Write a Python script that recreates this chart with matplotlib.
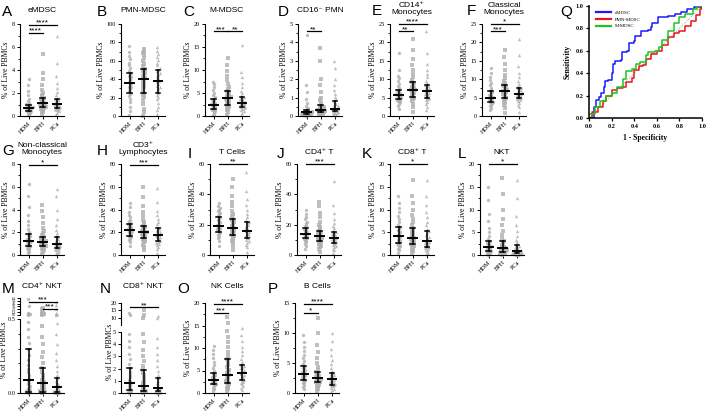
import numpy as np
import matplotlib
matplotlib.use('Agg')
import matplotlib.pyplot as plt
from matplotlib.ticker import AutoMinorLocator, MultipleLocator

groups = ['HDM', 'BPH', 'PCa']

# dot clouds per group (HDM, BPH, PCa)
emdsc = [[0.1,0.2,0.25,0.3,0.35,0.4,0.42,0.45,0.5,0.55,0.58,0.6,0.65,0.68,0.7,0.72,0.75,0.8,0.85,0.9,0.95,1.0,1.05,1.15,1.3,1.5,1.8,2.2,2.7,3.2],
         [0.2,0.35,0.45,0.55,0.6,0.65,0.7,0.75,0.8,0.85,0.9,0.95,1.0,1.05,1.1,1.15,1.2,1.3,1.4,1.45,1.5,1.55,1.65,1.8,2.0,2.3,2.7,3.2,3.7,5.4],
         [0.15,0.3,0.4,0.5,0.55,0.6,0.65,0.7,0.75,0.8,0.85,0.9,0.95,1.0,1.05,1.1,1.15,1.2,1.3,1.4,1.45,1.5,1.6,1.8,2.1,2.4,2.9,3.5,4.6,7.0]]
pmn = [[1,5,10,15,19,22,24,25,27,29,31,32,34,35,36,37,39,40,42,44,45,47,49,52,55,58,62,65,70,76],
       [0,4,8,13,17,21,23,25,28,31,33,35,37,39,40,41,43,45,47,49,50,51,54,57,60,63,66,69,71,73],
       [2,6,10,14,18,21,23,25,27,29,31,33,35,37,38,39,41,43,45,47,49,50,52,55,58,61,64,67,71,75]]
mmdsc = [[0.2,0.5,0.8,1.0,1.2,1.3,1.4,1.5,1.7,1.9,2.0,2.2,2.3,2.4,2.5,2.6,2.8,2.9,3.1,3.3,3.4,3.6,3.8,4.1,4.5,5.0,5.6,6.2,6.9,7.5],
         [0.3,0.8,1.2,1.6,1.9,2.1,2.3,2.5,2.8,3.0,3.2,3.4,3.6,3.8,3.9,4.0,4.2,4.4,4.7,4.9,5.1,5.4,5.8,6.3,7.0,7.8,8.8,9.8,11.0,12.5],
         [0.3,0.7,1.0,1.3,1.6,1.8,1.9,2.0,2.1,2.3,2.4,2.5,2.6,2.7,2.8,2.9,3.0,3.2,3.4,3.6,3.8,4.1,4.4,4.9,5.5,6.3,7.2,8.4,9.5,15.5]]
cd16 = [[0.02,0.04,0.05,0.06,0.08,0.09,0.1,0.1,0.12,0.14,0.15,0.16,0.18,0.19,0.2,0.21,0.22,0.24,0.26,0.28,0.3,0.35,0.4,0.45,0.55,0.7,0.9,1.3,1.7,4.4],
        [0.03,0.06,0.09,0.12,0.15,0.17,0.19,0.2,0.22,0.25,0.27,0.29,0.31,0.33,0.35,0.37,0.4,0.43,0.47,0.51,0.55,0.6,0.7,0.85,1.0,1.3,1.7,2.0,3.0,3.7],
        [0.04,0.08,0.12,0.15,0.18,0.21,0.23,0.25,0.27,0.29,0.31,0.33,0.36,0.38,0.4,0.43,0.47,0.52,0.58,0.65,0.72,0.8,0.9,1.05,1.2,1.4,1.7,2.0,2.6,3.0]]
cd14 = [[2.0,2.8,3.3,3.7,4.0,4.2,4.4,4.5,4.7,4.9,5.0,5.2,5.3,5.5,5.6,5.7,5.9,6.1,6.3,6.6,6.9,7.2,7.6,8.1,8.7,9.4,10.2,11.0,12.5,17.0],
        [1.0,2.5,3.3,4.0,4.5,4.8,5.0,5.2,5.6,6.0,6.3,6.6,6.8,7.0,7.2,7.4,7.7,8.0,8.4,8.7,9.0,9.2,9.8,10.5,11.5,12.5,13.8,15.5,18.0,21.0],
        [1.5,2.5,3.2,3.8,4.3,4.6,4.8,5.0,5.3,5.6,5.9,6.1,6.3,6.5,6.7,6.9,7.1,7.3,7.6,7.9,8.2,8.4,8.9,9.6,10.5,11.5,12.5,14.0,17.0,23.0]]
classical = [[1.5,2.3,2.8,3.1,3.4,3.6,3.7,3.8,4.0,4.2,4.4,4.6,4.7,4.9,5.0,5.1,5.3,5.5,5.8,6.1,6.5,6.8,7.2,7.7,8.3,9.0,9.8,10.6,11.8,13.0],
             [0.8,2.2,3.0,3.6,4.1,4.5,4.8,5.0,5.3,5.6,5.9,6.2,6.4,6.6,6.7,6.9,7.2,7.5,7.8,8.1,8.3,8.4,8.9,9.5,10.3,11.2,12.5,14.0,16.0,18.0],
             [1.2,2.4,3.1,3.6,4.0,4.3,4.6,4.8,5.0,5.2,5.4,5.6,5.8,6.0,6.1,6.3,6.5,6.7,7.0,7.3,7.5,7.7,8.2,8.8,9.6,10.5,11.8,13.5,16.5,21.0]]
nonclassical = [[0.15,0.3,0.45,0.55,0.62,0.7,0.75,0.8,0.88,0.95,1.02,1.1,1.15,1.2,1.25,1.3,1.38,1.45,1.55,1.65,1.75,1.85,2.0,2.3,2.6,3.0,3.5,4.2,5.2,6.2],
                [0.1,0.25,0.4,0.5,0.58,0.65,0.7,0.75,0.8,0.86,0.92,0.97,1.02,1.06,1.1,1.15,1.2,1.27,1.35,1.43,1.52,1.6,1.72,1.9,2.1,2.4,2.8,3.3,3.9,4.4],
                [0.08,0.18,0.28,0.38,0.45,0.5,0.55,0.6,0.65,0.7,0.76,0.82,0.87,0.91,0.95,1.0,1.06,1.13,1.22,1.32,1.43,1.55,1.7,1.9,2.2,2.6,3.2,4.0,5.2,5.8]]
cd3 = [[8,11,13,14.5,15.5,16,16.5,17,18,19,19.5,20,21,21.5,22,22.5,23,24,25,25.5,26,27,28,29.5,31,33,35,38,42,46],
       [4,7,9,11,12.5,13.5,14.5,15,16,17,17.5,18.5,19,19.5,20,20.5,21,22,23,24,25,25.5,27,29,31,34,38,43,51,60],
       [2,5,7,8.5,9.5,10.5,11.5,12,13,14,15,15.5,16.5,17,17.5,18,19,20,21,22,23,23.5,25,27,29,32,35,39,47,59]]
tcells = [[6,9,11,12,13,14,14.5,15,16,16.5,17,17.5,18,18.5,19,19.5,20,21,22,23,24,25,26,27,28,29,30,31,32.5,34],
          [3,6,8,9.5,10.5,11.5,12.5,13,14,15,15.5,16,17,17.5,18,18.5,19,20,21,22,23,24,25.5,27,29,32,35,39,45,50],
          [2,5,6.5,8,9,10,11,11.5,12.5,13,14,14.5,15,15.5,16,16.5,17,18,19,20,21,21.5,23,25,27,30,33,37,42,55]]
cd4t = [[4,6,7.5,8.5,9.5,10,10.5,11,11.5,12,12.5,13,13.5,14,14,14.5,15,15.5,16,16.5,17,18,19,20,21,22,23.5,25,27,30],
        [2,4,5,6,7,8,8.5,9,9.5,10,10.5,11,11.5,12,12.5,13,13.5,14,14.5,15,15.5,16,17,18.5,20,22,25,28,32,35],
        [1.5,3,4,5,6,6.5,7.5,8,8.5,9,9.5,10,10.5,11,11.5,12,12.5,13,13.5,14,14.5,15,16,17.5,19,21,24,28,33,49]]
cd8t = [[0.5,1.0,1.4,1.8,2.0,2.3,2.5,2.6,2.9,3.1,3.4,3.6,3.8,4.0,4.1,4.3,4.5,4.8,5.1,5.5,5.8,6.1,6.6,7.2,7.9,8.6,9.4,10.3,11.5,13.0],
        [0.4,0.9,1.3,1.7,2.0,2.2,2.4,2.5,2.8,3.0,3.2,3.4,3.6,3.7,3.8,4.0,4.3,4.6,4.9,5.3,5.6,5.9,6.5,7.2,8.0,8.9,10.0,11.5,13.0,16.5],
        [0.2,0.5,0.8,1.1,1.3,1.5,1.7,1.8,2.0,2.2,2.4,2.6,2.7,2.9,3.0,3.2,3.4,3.7,4.0,4.4,4.8,5.2,5.8,6.5,7.3,8.3,9.5,11.0,13.0,16.5]]
nkt = [[0.1,0.25,0.4,0.5,0.6,0.7,0.75,0.8,0.95,1.1,1.2,1.35,1.45,1.6,1.7,1.85,2.0,2.2,2.4,2.6,2.8,3.0,3.5,4.2,5.0,6.0,7.5,9.0,12.0,15.0],
       [0.1,0.2,0.3,0.4,0.5,0.6,0.65,0.7,0.8,0.9,1.0,1.1,1.25,1.4,1.5,1.65,1.8,2.0,2.2,2.5,2.7,3.0,3.5,4.3,5.2,6.5,8.0,10.0,13.5,17.0],
       [0.05,0.1,0.15,0.2,0.25,0.3,0.35,0.4,0.45,0.5,0.6,0.65,0.7,0.8,0.9,1.0,1.1,1.3,1.5,1.7,2.0,2.3,2.8,3.4,4.2,5.2,6.5,8.5,12.5,16.5]]
cd4nkt = [[0.003,0.005,0.008,0.01,0.012,0.015,0.02,0.025,0.03,0.035,0.04,0.05,0.06,0.07,0.08,0.09,0.1,0.12,0.14,0.16,0.19,0.22,0.26,0.3,0.34,0.38,0.43,0.48,0.6,0.7,0.8,0.9,1.0,1.2,3.5,6.0],
          [0.003,0.005,0.008,0.01,0.012,0.015,0.02,0.025,0.03,0.035,0.04,0.045,0.05,0.055,0.06,0.067,0.075,0.085,0.1,0.12,0.14,0.17,0.2,0.24,0.28,0.33,0.38,0.45,0.6,0.7,0.8,0.9,1.1,1.5,2.5,3.0],
          [0.001,0.002,0.004,0.005,0.007,0.01,0.012,0.015,0.02,0.025,0.03,0.035,0.04,0.045,0.05,0.055,0.06,0.07,0.08,0.1,0.12,0.15,0.18,0.22,0.27,0.33,0.4,0.47,0.6,0.7,0.9,1.2,2.5,4.0,5.0]]
cd8nkt = [[0.02,0.05,0.1,0.15,0.2,0.25,0.3,0.35,0.45,0.55,0.65,0.75,0.85,0.95,1.1,1.3,1.5,1.75,2.05,2.4,2.8,3.2,3.8,4.3,4.8,12.0,13.0],
          [0.02,0.05,0.08,0.12,0.16,0.2,0.25,0.3,0.35,0.45,0.55,0.6,0.7,0.85,1.0,1.2,1.45,1.65,1.85,2.2,2.6,3.0,3.5,4.2,4.8,10.0,12.0,15.0],
          [0.01,0.03,0.06,0.09,0.12,0.15,0.2,0.25,0.3,0.35,0.4,0.45,0.5,0.6,0.7,0.85,1.0,1.2,1.5,1.8,2.2,2.7,3.2,3.8,4.5,10.0,11.0]]
nkcells = [[0.5,0.9,1.2,1.5,1.7,1.8,1.9,2.0,2.2,2.4,2.5,2.6,2.8,2.9,3.0,3.2,3.4,3.6,3.8,4.1,4.3,4.5,5.0,5.5,6.2,7.0,7.8,8.6,9.5,10.5],
           [0.3,0.8,1.2,1.5,1.8,2.0,2.2,2.3,2.6,2.9,3.2,3.5,3.7,3.9,4.1,4.4,4.8,5.2,5.7,6.3,6.9,7.5,8.3,9.2,10.2,11.4,12.5,13.8,15.5,17.0],
           [0.6,1.1,1.5,1.9,2.2,2.5,2.7,2.8,3.1,3.4,3.6,3.8,4.0,4.2,4.4,4.6,4.9,5.2,5.5,5.8,6.1,6.3,6.9,7.6,8.4,9.3,10.3,11.5,13.0,14.5]]
bcells = [[0.6,1.0,1.3,1.6,1.8,2.0,2.1,2.2,2.4,2.6,2.7,2.9,3.0,3.1,3.2,3.4,3.5,3.7,3.9,4.1,4.3,4.5,4.9,5.3,5.8,6.3,7.0,7.7,8.5,9.6],
          [0.3,0.7,1.0,1.2,1.4,1.6,1.7,1.8,1.9,2.0,2.1,2.2,2.3,2.4,2.5,2.6,2.8,2.9,3.1,3.2,3.4,3.5,3.9,4.4,5.0,5.8,6.8,8.0,10.0,12.5],
          [0.2,0.5,0.7,0.9,1.1,1.2,1.3,1.4,1.5,1.7,1.8,1.9,2.0,2.2,2.3,2.4,2.5,2.7,2.8,3.0,3.2,3.3,3.7,4.2,4.8,5.5,6.4,7.4,8.6,10.0]]

# median with interquartile range: [q1, median, q3] per group
emdsc_iqr = [[0.45, 0.7, 1.0], [0.75, 1.1, 1.55], [0.7, 1.05, 1.5]]
pmn_iqr = [[25, 36, 47], [25, 40, 51], [25, 38, 50]]
mmdsc_iqr = [[1.5, 2.5, 3.6], [2.5, 3.9, 5.4], [2.0, 2.8, 4.1]]
cd16_iqr = [[0.1, 0.2, 0.35], [0.2, 0.35, 0.6], [0.25, 0.4, 0.8]]
cd14_iqr = [[4.5, 5.6, 7.2], [5.2, 7.2, 9.2], [5.0, 6.7, 8.4]]
classical_iqr = [[3.8, 5.0, 6.8], [5.0, 6.7, 8.4], [4.8, 6.1, 7.7]]
nonclassical_iqr = [[0.8, 1.25, 1.85], [0.75, 1.1, 1.6], [0.6, 0.95, 1.55]]
cd3_iqr = [[17, 22, 27], [15, 20, 25.5], [12, 17.5, 23.5]]
tcells_iqr = [[15, 19, 25], [13, 18, 24], [11.5, 16, 21.5]]
cd4t_iqr = [[11, 14, 18], [9, 12.5, 16], [8, 11.5, 15]]
cd8t_iqr = [[2.6, 4.1, 6.1], [2.5, 3.8, 5.9], [1.8, 3.0, 5.2]]
nkt_iqr = [[0.8, 1.7, 3.0], [0.7, 1.5, 3.0], [0.4, 0.9, 2.3]]
cd4nkt_iqr = [[0.01, 0.09, 0.3], [0.01, 0.067, 0.17], [0.005, 0.04, 0.1]]
cd8nkt_iqr = [[0.25, 0.85, 2.05], [0.2, 0.6, 1.85], [0.15, 0.45, 1.2]]
nkcells_iqr = [[2.0, 3.0, 4.5], [2.3, 4.1, 7.5], [2.8, 4.4, 6.3]]
bcells_iqr = [[2.2, 3.2, 4.5], [1.8, 2.5, 3.5], [1.4, 2.3, 3.3]]

# significance bars: (group a, group b, height, stars)
emdsc_sig = [(0, 1, 7.2, '****'), (0, 2, 7.9, '****')]
mmdsc_sig = [(0, 1, 18.4, '***'), (1, 2, 18.4, '**')]
cd16_sig = [(0, 1, 4.6, '**')]
cd14_sig = [(0, 1, 23.0, '**'), (0, 2, 25.0, '****')]
classical_sig = [(0, 1, 23.0, '***'), (0, 2, 25.0, '*')]
nonclassical_sig = [(0, 2, 7.9, '*')]
cd3_sig = [(0, 2, 79, '***')]
tcells_sig = [(0, 2, 60, '**')]
cd4t_sig = [(0, 2, 60, '***')]
cd8t_sig = [(0, 2, 20, '*')]
nkt_sig = [(0, 2, 20, '*')]
cd4nkt_sig = [(0, 2, 5.2, '***'), (1, 2, 2.6, '***')]
cd8nkt_sig = [(0, 2, 17, '**')]
nkcells_sig = [(0, 1, 17.8, '***'), (0, 2, 19.8, '****')]
bcells_sig = [(0, 1, 13.3, '*'), (0, 2, 14.8, '****')]

# ROC curves (1 - specificity, sensitivity)
roc_emdsc_x = [0, 0.04, 0.06, 0.09, 0.11, 0.13, 0.14, 0.17, 0.2, 0.21, 0.23, 0.28, 0.29, 0.34, 0.35, 0.4, 0.41, 0.46, 0.52, 0.55, 0.56, 0.61, 0.7, 0.76, 0.81, 0.87, 0.93, 1.0]
roc_emdsc_y = [0, 0.1, 0.16, 0.19, 0.22, 0.28, 0.33, 0.34, 0.4, 0.48, 0.51, 0.52, 0.59, 0.6, 0.67, 0.69, 0.73, 0.78, 0.79, 0.81, 0.85, 0.9, 0.91, 0.93, 0.95, 0.97, 0.99, 1.0]
roc_pmn_x = [0, 0.03, 0.08, 0.12, 0.15, 0.2, 0.25, 0.3, 0.33, 0.38, 0.4, 0.44, 0.48, 0.5, 0.55, 0.6, 0.65, 0.7, 0.75, 0.8, 0.85, 0.9, 0.95, 0.98, 1.0]
roc_pmn_y = [0, 0.05, 0.1, 0.15, 0.2, 0.25, 0.27, 0.28, 0.32, 0.36, 0.43, 0.46, 0.47, 0.53, 0.57, 0.6, 0.65, 0.72, 0.76, 0.78, 0.82, 0.87, 0.92, 0.97, 1.0]
roc_mmdsc_x = [0, 0.05, 0.1, 0.15, 0.2, 0.25, 0.3, 0.33, 0.38, 0.42, 0.45, 0.5, 0.52, 0.58, 0.62, 0.65, 0.7, 0.75, 0.8, 0.85, 0.92, 0.96, 1.0]
roc_mmdsc_y = [0.04, 0.1, 0.15, 0.2, 0.22, 0.28, 0.35, 0.42, 0.44, 0.48, 0.5, 0.56, 0.59, 0.6, 0.63, 0.7, 0.78, 0.85, 0.9, 0.93, 0.97, 1.0, 1.0]

W, H = 707, 416
AXW = 44
SERIF = ['Liberation Serif', 'DejaVu Serif']
SANS = ['Liberation Sans', 'DejaVu Sans']
plt.rcParams['font.family'] = SERIF
plt.rcParams['axes.linewidth'] = 0.8

fig = plt.figure(figsize=(W / 100, H / 100), dpi=100)


def px_axes(x0, y0, x1, y1):
    return fig.add_axes([x0 / W, 1 - y1 / H, (x1 - x0) / W, (y1 - y0) / H])


def swarm(vals, lo, hi, nbins=38, step=0.085):
    vals = np.asarray(vals, float)
    bins = np.floor((vals - lo) / (hi - lo) * nbins).astype(int)
    off = np.zeros(len(vals))
    counts = {}
    for k, b in enumerate(bins):
        n = counts.get(b, 0)
        counts[b] = n + 1
        sgn = 1 if n % 2 else -1
        off[k] = sgn * ((n + 1) // 2) * step + (0.04 if b % 2 else -0.04)
    return np.clip(off, -0.4, 0.4)


markers = ['o', 's', '^']


def dots(ax, data, lo, hi):
    for g, vals in enumerate(data):
        vals = [v for v in vals if lo <= v <= hi]
        if not vals:
            continue
        xs = g + swarm(vals, lo, hi)
        ax.scatter(xs, vals, s=6, marker=markers[g], c='#b0b0b0', alpha=0.8,
                   linewidths=0, zorder=2, clip_on=False)


def iqr_bars(ax, stats):
    for g, (q1, med, q3) in enumerate(stats):
        ax.plot([g - 0.3, g + 0.3], [med, med], color='k', lw=1.4, zorder=4)
        ax.plot([g, g], [q1, q3], color='k', lw=1.1, zorder=4)
        for q in (q1, q3):
            ax.plot([g - 0.16, g + 0.16], [q, q], color='k', lw=1.1, zorder=4)


def sig_bars(ax, sigs):
    for a, b, y, s in sigs:
        ax.plot([a, b], [y, y], color='k', lw=0.9, clip_on=False, zorder=5)
        ax.annotate(s, ((a + b) / 2, y), xytext=(0, -1.2), textcoords='offset points',
                    ha='center', va='bottom', fontsize=6, family=SANS,
                    annotation_clip=False)


def style(ax, xlabels=True):
    ax.spines['top'].set_visible(False)
    ax.spines['right'].set_visible(False)
    ax.tick_params(direction='out', length=2.5, width=0.7, labelsize=4.5, pad=1)
    ax.tick_params(which='minor', length=1.5, width=0.6)
    ax.set_xlim(-0.6, 2.5)
    ax.set_xticks([0, 1, 2])
    if xlabels:
        ax.set_xticklabels(groups, rotation=45, ha='right', rotation_mode='anchor', fontsize=4.5)
    else:
        ax.set_xticklabels([])


def letter(x, y, s):
    fig.text(x / W, 1 - y / H, s, fontsize=11, family=SANS, va='center', ha='left')


def title(cx, y, s):
    fig.text(cx / W, 1 - y / H, s, fontsize=6, family=SANS, va='center', ha='center',
             linespacing=1.1)


def panel(data, stats, sigs, x0, y0, y1, ylim, ystep, ttl, let, lx, ty):
    ax = px_axes(x0, y0, x0 + AXW, y1)
    dots(ax, data, ylim[0], ylim[1])
    iqr_bars(ax, stats)
    sig_bars(ax, sigs)
    ax.set_ylim(*ylim)
    ax.yaxis.set_major_locator(MultipleLocator(ystep))
    ax.yaxis.set_minor_locator(AutoMinorLocator(2))
    style(ax)
    ax.set_ylabel('% of Live PBMCs', fontsize=5.5, labelpad=1.5)
    letter(lx, ty + 2, let)
    title(x0 + AXW / 2, ty, ttl)
    return ax


r1 = (24, 116)
r2 = (164, 255)
r3 = (303, 393)

panel(emdsc, emdsc_iqr, emdsc_sig, 20, *r1, (0, 8), 2, 'eMDSC', 'A', 2, 10)
panel(pmn, pmn_iqr, [], 121, *r1, (0, 100), 20, 'PMN-MDSC', 'B', 97, 10)
panel(mmdsc, mmdsc_iqr, mmdsc_sig, 205, *r1, (0, 20), 5, 'M-MDSC', 'C', 183, 10)
panel(cd16, cd16_iqr, cd16_sig, 298, *r1, (0, 5), 1, 'CD16\u207b PMN', 'D', 278, 10)
panel(cd14, cd14_iqr, cd14_sig, 390, *r1, (0, 25), 5, 'CD14\u207a\nMonocytes', 'E', 372, 9)
panel(classical, classical_iqr, classical_sig, 482, *r1, (0, 25), 5, 'Classical\nMonocytes', 'F', 467, 9)

panel(nonclassical, nonclassical_iqr, nonclassical_sig, 20, *r2, (0, 8), 2, 'Non-classical\nMonocytes', 'G', 2, 149)
panel(cd3, cd3_iqr, cd3_sig, 121, *r2, (0, 80), 20, 'CD3\u207a\nLymphocytes', 'H', 97, 149)
panel(tcells, tcells_iqr, tcells_sig, 210, *r2, (0, 60), 20, 'T Cells', 'I', 188, 152)
panel(cd4t, cd4t_iqr, cd4t_sig, 297, *r2, (0, 60), 20, 'CD4\u207a T', 'J', 277, 152)
panel(cd8t, cd8t_iqr, cd8t_sig, 390, *r2, (0, 20), 5, 'CD8\u207a T', 'K', 362, 152)
panel(nkt, nkt_iqr, nkt_sig, 480, *r2, (0, 20), 5, 'NKT', 'L', 458, 152)

panel(nkcells, nkcells_iqr, nkcells_sig, 205, *r3, (0, 20), 5, 'NK Cells', 'O', 177, 287)
panel(bcells, bcells_iqr, bcells_sig, 295, *r3, (0, 15), 5, 'B Cells', 'P', 268, 287)


def broken(data, stats, sigs, x0, top, bot, lo_lim, hi_lim, lo_ticks, hi_ticks,
           lo_labels, hi_fs, ttl, let, lx, ylab_x):
    axt = px_axes(x0, top[0], x0 + AXW, top[1])
    axb = px_axes(x0, bot[0], x0 + AXW, bot[1])
    dots(axt, [[v for v in g if v > lo_lim[1]] for g in data], *hi_lim)
    dots(axb, data, *lo_lim)
    iqr_bars(axb, stats)
    sig_bars(axt, sigs)
    axt.set_ylim(*hi_lim)
    axb.set_ylim(*lo_lim)
    style(axt, xlabels=False)
    axt.spines['bottom'].set_visible(False)
    axt.tick_params(axis='x', length=0)
    axt.set_yticks(hi_ticks)
    axt.tick_params(axis='y', labelsize=hi_fs, length=2, pad=0.8)
    style(axb)
    axb.set_yticks(lo_ticks)
    axb.set_yticklabels(lo_labels)
    fig.text(ylab_x / W, 1 - ((top[0] + bot[1]) / 2 + 4) / H, '% of Live PBMCs', rotation=90,
             fontsize=5.5, va='center', ha='center')
    letter(lx, 289, let)
    title(x0 + AXW / 2, 287, ttl)
    return axt, axb


axt, axb = broken(cd4nkt, cd4nkt_iqr, cd4nkt_sig, 20, (298, 315), (319, 393),
                  (0, 0.5), (0.5, 6.5), [0, 0.5], [0.5, 1.5, 2.5, 3.5, 4.5, 5.5, 6.5],
                  ['0.0', '0.5'], 2.4, 'CD4\u207a NKT', 'M', 2, 4.5)
axb.yaxis.set_minor_locator(MultipleLocator(0.1))

broken(cd8nkt, cd8nkt_iqr, cd8nkt_sig, 121, (303, 325), (332, 393),
       (0, 5), (5, 20), [0, 1, 2, 3, 4, 5], [10, 15, 20],
       ['0', '1', '2', '3', '4', '5'], 4.5, 'CD8\u207a NKT', 'N', 100, 110)

# ROC panel
axq = px_axes(589, 6, 702, 118)
axq.plot([0, 1], [0, 1], ls=(0, (1, 1.5)), color='#888888', lw=0.6)
axq.plot(roc_emdsc_x, roc_emdsc_y, drawstyle='steps-post', color='#1a1aff', lw=1.1, label='eMDSC')
axq.plot(roc_pmn_x, roc_pmn_y, drawstyle='steps-post', color='#e8151b', lw=1.1, label='PMN-MDSC')
axq.plot(roc_mmdsc_x, roc_mmdsc_y, drawstyle='steps-post', color='#21c321', lw=1.1, label='M-MDSC')
axq.set_xlim(0, 1)
axq.set_ylim(0, 1)
axq.set_xticks(np.arange(0, 1.01, 0.2))
axq.set_yticks(np.arange(0, 1.01, 0.2))
axq.spines['top'].set_visible(False)
axq.spines['right'].set_visible(False)
axq.spines['left'].set_linewidth(1.1)
axq.spines['bottom'].set_linewidth(1.1)
axq.tick_params(direction='out', length=2.5, width=0.9, labelsize=4.5, pad=1.5)
for t in axq.get_xticklabels() + axq.get_yticklabels():
    t.set_fontweight('bold')
axq.set_xlabel('1 - Specificity', fontsize=5.5, fontweight='bold', labelpad=4)
axq.set_ylabel('Sensitivity', fontsize=5.5, fontweight='bold', labelpad=3)
leg = axq.legend(loc='upper left', fontsize=3.5, frameon=False, handlelength=3.2,
                 bbox_to_anchor=(0.02, 1.0), labelspacing=0.5)
for ln in leg.get_lines():
    ln.set_linewidth(1.6)
letter(560, 12, 'Q')

fig.savefig('out.png', dpi=100)
